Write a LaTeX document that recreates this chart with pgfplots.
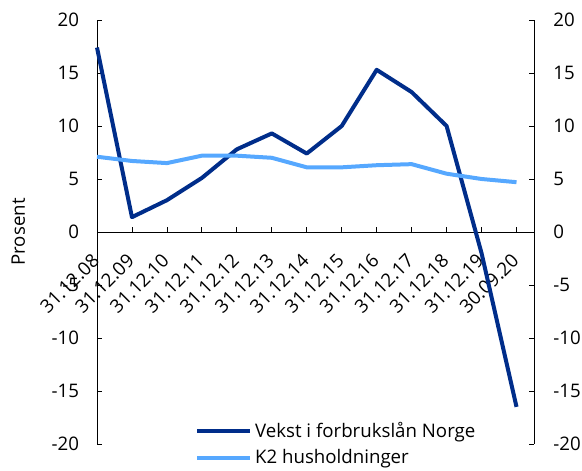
\documentclass[border=0pt]{standalone}
\usepackage{pgfplots}
\pgfplotsset{compat=1.18}
\usepackage{fontspec}
\setmainfont{Open Sans}
\definecolor{dblue}{HTML}{002D8A}
\definecolor{lblue}{HTML}{56A8FF}
\begin{document}
\begin{tikzpicture}
\useasboundingbox (0,0) rectangle (436.5pt,353.25pt);
\begin{axis}[
  at={(72.75pt,20.25pt)}, anchor=south west,
  scale only axis, width=327.75pt, height=318pt,
  xmin=0, xmax=12.5, ymin=-20, ymax=20,
  axis x line=middle, axis y line=left,
  hide obscured x ticks=false,
  axis line style={-, black, line width=0.6pt},
  xtick={0,...,12},
  xticklabels={31.12.08,31.12.09,31.12.10,31.12.11,31.12.12,31.12.13,31.12.14,31.12.15,31.12.16,31.12.17,31.12.18,31.12.19,30.09.20},
  ytick={-20,-15,...,20},
  tick align=inside,
  major tick length=4pt,
  tick style={black, line width=0.6pt},
  /pgf/number format/assume math mode=true,
  tick label style={font=\fontsize{14}{16}\selectfont},
  yticklabel style={xshift=-10pt},
  xticklabel style={xshift=1.5pt, yshift=-16.5pt, rotate=45, anchor=east},
  ylabel={Prosent},
  ylabel style={font=\fontsize{14}{16}\selectfont, at={(axis description cs:0,0.5)}, anchor=center, yshift=59pt},
  legend style={draw=none, fill=none, at={(rel axis cs:0.224,0.058)}, anchor=north west,
     font=\fontsize{14}{16}\selectfont, row sep=3.5pt, inner sep=0pt},
  legend cell align=left,
  legend image code/.code={\draw[#1, line width=3pt] (0pt,0pt) -- (40pt,0pt);},
  clip=false,
]
\addplot[dblue, line width=3pt, line join=round] coordinates {
(0,17.4) (1,1.4) (2,3.0) (3,5.1) (4,7.8) (5,9.3) (6,7.4) (7,10.0) (8,15.3) (9,13.2) (10,10.0) (11,-2.0) (12,-16.5)};
\addlegendentry{Vekst i forbrukslån Norge}
\addplot[lblue, line width=3pt, line join=round] coordinates {
(0,7.1) (1,6.7) (2,6.5) (3,7.2) (4,7.2) (5,7.0) (6,6.1) (7,6.1) (8,6.3) (9,6.4) (10,5.5) (11,5.0) (12,4.7)};
\addlegendentry{K2 husholdninger}
\end{axis}
\begin{axis}[
  at={(72.75pt,20.25pt)}, anchor=south west,
  scale only axis, width=327.75pt, height=318pt,
  xmin=0, xmax=12.5, ymin=-20, ymax=20,
  axis x line=none, axis y line=right,
  axis line style={-, black, line width=0.6pt},
  ytick={-20,-15,...,20},
  tick align=inside,
  major tick length=4pt,
  tick style={black, line width=0.6pt},
  /pgf/number format/assume math mode=true,
  tick label style={font=\fontsize{14}{16}\selectfont},
  yticklabel style={xshift=11pt, anchor=west},
]
\addplot[draw=none] coordinates {(0,0)};
\end{axis}
\end{tikzpicture}
\end{document}
